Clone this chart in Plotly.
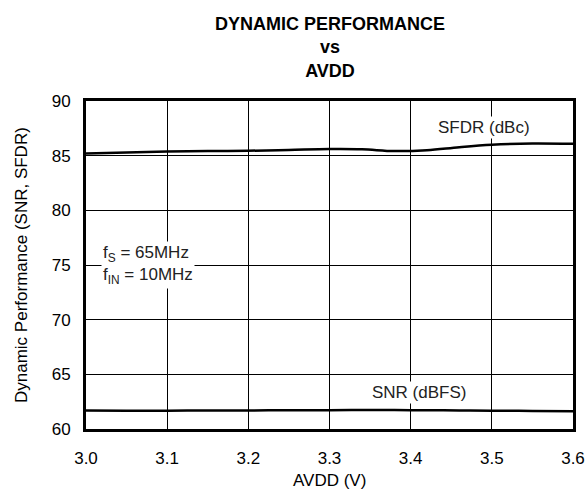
import plotly.graph_objects as go

avdd = [3.0, 3.05, 3.1, 3.15, 3.2, 3.25, 3.3, 3.34, 3.38, 3.42, 3.46, 3.5, 3.55, 3.6]
sfdr = [85.2, 85.3, 85.38, 85.42, 85.45, 85.52, 85.6, 85.58, 85.42, 85.5, 85.78, 86.0, 86.12, 86.08]
snr = [61.7, 61.68, 61.68, 61.69, 61.7, 61.71, 61.72, 61.73, 61.73, 61.72, 61.7, 61.68, 61.65, 61.62]
x_ticks = [3.0, 3.1, 3.2, 3.3, 3.4, 3.5, 3.6]
x_tick_labels = ["3.0", "3.1", "3.2", "3.3", "3.4", "3.5", "3.6"]

font = "Liberation Sans, Arial, sans-serif"
fs = 17
fig = go.Figure()
fig.add_trace(go.Scatter(x=avdd, y=sfdr, mode="lines", line=dict(color="black", width=2.5, shape="spline")))
fig.add_trace(go.Scatter(x=avdd, y=snr, mode="lines", line=dict(color="black", width=2.5, shape="spline")))

fig.add_annotation(x=3.49, y=87.6, text="SFDR (dBc)", showarrow=False, bgcolor="white",
                   font=dict(size=fs, color="#222", family=font))
fig.add_annotation(x=3.41, y=63.3, text="SNR (dBFS)", showarrow=False, bgcolor="white",
                   font=dict(size=fs, color="#222", family=font))
fig.add_annotation(x=3.018, y=75.0, xanchor="left", align="left",
                   text="f<sub>S</sub> = 65MHz<br>f<sub>IN</sub> = 10MHz", showarrow=False, bgcolor="white",
                   font=dict(size=fs, color="#222", family=font))
fig.add_annotation(x=0.5, y=1, xref="paper", yref="paper", xanchor="center", yanchor="bottom", yshift=18,
                   text="<b>DYNAMIC PERFORMANCE<br>vs<br>AVDD</b>", showarrow=False,
                   font=dict(size=18, color="black", family=font))
# axis titles
fig.add_annotation(x=0.5, y=0, xref="paper", yref="paper", xanchor="center", yanchor="middle", yshift=-51,
                   text="AVDD (V)", showarrow=False, font=dict(size=fs, color="black", family=font))
fig.add_annotation(x=0, y=0.5, xref="paper", yref="paper", xanchor="center", yanchor="middle", xshift=-65,
                   textangle=-90, text="Dynamic Performance (SNR, SFDR)", showarrow=False,
                   font=dict(size=fs, color="black", family=font))

fig.update_layout(
    width=587, height=494,
    paper_bgcolor="white", plot_bgcolor="white",
    margin=dict(l=86, r=14, t=101, b=65),
    showlegend=False,
    font=dict(family=font, color="black", size=fs),
)
fig.update_xaxes(range=[3.0, 3.6], tickvals=x_ticks, ticktext=x_tick_labels, showgrid=True,
                 gridcolor="black", gridwidth=1, ticklabelstandoff=12, automargin=False,
                 showline=True, linecolor="black", linewidth=3, mirror=True, ticks="", zeroline=False,
                 tickfont=dict(size=fs))
fig.update_yaxes(range=[60, 90], dtick=5, showgrid=True, gridcolor="black", gridwidth=1, ticklabelstandoff=9,
                 automargin=False,
                 showline=True, linecolor="black", linewidth=3, mirror=True, ticks="", zeroline=False,
                 tickfont=dict(size=fs))
fig.write_html("out.html", config={"displayModeBar": False},
               post_script="document.body.style.margin='0';document.body.style.overflow='hidden';")
